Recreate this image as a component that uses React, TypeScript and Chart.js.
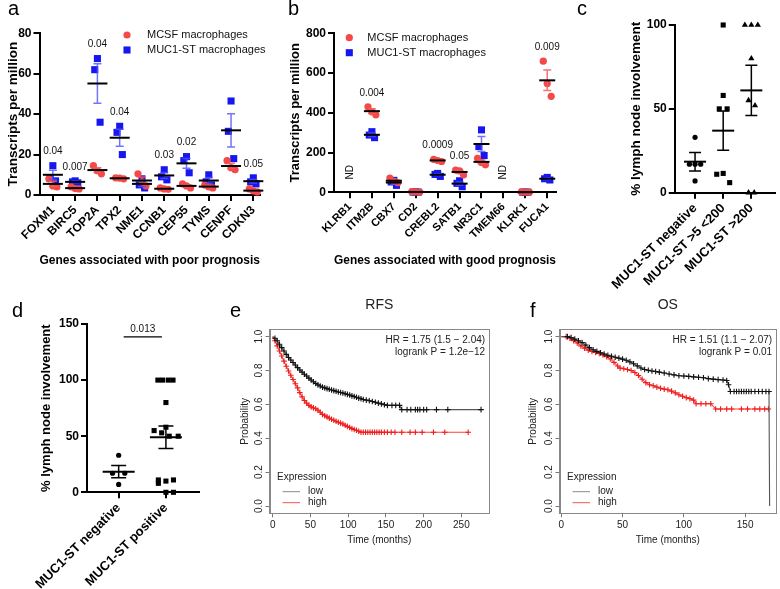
import React, { useEffect, useRef } from 'react';
import { Chart, registerables } from 'chart.js';

Chart.register(...registerables);

const FONT = "'Liberation Sans', Arial, Helvetica, sans-serif";
const RED = '#F54848';
const BLUE = '#1616F0';
const RED_BAR = 'rgba(245, 90, 90, 0.85)';
const BLUE_BAR = 'rgba(80, 80, 250, 0.8)';
const KM_TEXT = '#222222';
const KM_AXIS = '#777777';

// ---------- Panel a ----------
const CATS_A = ['FOXM1', 'BIRC5', 'TOP2A', 'TPX2', 'NME1', 'CCNB1', 'CEP55', 'TYMS', 'CENPF', 'CDKN3'];
const MCSF_A = [[8, 4.5, 4], [4, 3.2, 3], [14.5, 12, 10.5], [8.5, 8.3, 8], [10.5, 6.5, 4.5], [3.5, 3, 2.8], [5.5, 4.5, 3.5], [5, 4, 3.5], [17, 13.5, 12.5], [3, 2, 1.5]];
const MUC1_A = [[14.5, 8.5, 7], [7, 6.5, 6], [67.5, 62, 36], [34, 31, 20], [8, 5, 3.5], [12.5, 9, 7.5], [19, 17, 11], [10, 6.5, 5], [46.5, 31.5, 18], [8.5, 6.5, 5.5]];
const P_A = ['0.04', '0.007', '0.04', '0.04', '', '0.03', '0.02', '', '', '0.05'];
const Y_TICKS_A = [0, 20, 40, 60, 80];

// ---------- Panel b ----------
const CATS_B = ['KLRB1', 'ITM2B', 'CBX7', 'CD2', 'CREBL2', 'SATB1', 'NR3C1', 'TMEM66', 'KLRK1', 'FUCA1'];
const MCSF_B = [[], [430, 405, 390], [72, 55, 48], [3, 2, 1], [166, 160, 155], [112, 108, 87], [171, 150, 138], [], [2, 1, 0.5], [660, 547, 483]];
const MUC1_B = [[], [305, 288, 275], [60, 52, 35], [2, 1, 1], [95, 90, 80], [58, 45, 28], [314, 230, 185], [], [1, 0.5, 0.5], [75, 68, 62]];
const P_B = ['', '0.004', '', '', '0.0009', '0.05', '', '', '', '0.009'];
const Y_TICKS_B = [0, 200, 400, 600, 800];

// ---------- Panel c ----------
const CATS_C = ['MUC1-ST negative', 'MUC1-ST >5 <200', 'MUC1-ST >200'];
const C_NEG = [33, 17, 17, 17, 7];
const C_MID = [100, 58, 50, 50, 11, 11.5, 6];
const C_HIGH = [100, 100, 100, 80, 55, 52, 0, 0];
const C_MEAN = [18.5, 37, 61];
const C_SEM = [5.5, 11.7, 15];
const Y_TICKS_C = [0, 50, 100];

// ---------- Panel d ----------
const CATS_D = ['MUC1-ST negative', 'MUC1-ST positive'];
const D_NEG = [33, 17, 17, 7];
const D_POS = [100, 100, 100, 100, 80, 58, 55, 53, 50, 50, 11, 8, 10, 11, 0, 0];
const D_MEAN = [18.4, 49];
const D_SEM = [5.5, 10];
const D_SIG = { from: 0, to: 1, level: 138.5, text: '0.013' };
const Y_TICKS_D = [0, 50, 100, 150];

// ---------- Panels e / f (Kaplan-Meier: [months, probability]) ----------
const E_LOW = [[0, 1], [3, 0.99], [6, 0.975], [9, 0.955], [12, 0.935], [15, 0.915], [18, 0.895], [21, 0.877], [24, 0.862], [27, 0.847], [30, 0.832], [33, 0.817], [36, 0.803], [39, 0.79], [42, 0.778], [45, 0.767], [48, 0.755], [51, 0.744], [54, 0.733], [57, 0.723], [60, 0.715], [63, 0.708], [66, 0.702], [69, 0.697], [72, 0.693], [75, 0.689], [78, 0.685], [81, 0.681], [84, 0.677], [87, 0.673], [90, 0.67], [93, 0.667], [96, 0.663], [99, 0.659], [102, 0.655], [105, 0.65], [108, 0.646], [111, 0.642], [114, 0.637], [117, 0.633], [120, 0.629], [124, 0.625], [128, 0.621], [132, 0.617], [136, 0.612], [140, 0.607], [144, 0.603], [148, 0.598], [152, 0.594], [158, 0.594], [163, 0.594], [168, 0.594], [171, 0.569], [178, 0.569], [183, 0.569], [189, 0.569], [192, 0.569], [195, 0.569], [200, 0.569], [204, 0.569], [217, 0.569], [232, 0.569], [276, 0.569]];
const E_HIGH = [[0, 1], [3, 0.975], [6, 0.945], [9, 0.915], [12, 0.885], [15, 0.855], [18, 0.825], [21, 0.797], [24, 0.772], [27, 0.747], [30, 0.722], [33, 0.697], [36, 0.669], [39, 0.644], [42, 0.623], [45, 0.607], [48, 0.594], [51, 0.585], [54, 0.579], [57, 0.574], [60, 0.565], [63, 0.553], [66, 0.541], [69, 0.533], [72, 0.526], [75, 0.519], [78, 0.512], [81, 0.506], [84, 0.5], [87, 0.494], [90, 0.489], [93, 0.484], [96, 0.477], [99, 0.47], [102, 0.463], [105, 0.457], [108, 0.452], [111, 0.447], [114, 0.441], [117, 0.435], [120, 0.435], [123, 0.435], [126, 0.435], [129, 0.435], [132, 0.435], [135, 0.435], [138, 0.435], [141, 0.435], [144, 0.435], [148, 0.435], [152, 0.435], [157, 0.435], [162, 0.435], [171, 0.435], [182, 0.435], [189, 0.435], [198, 0.435], [213, 0.435], [228, 0.435], [259, 0.435]];
const F_LOW = [[0, 1], [5, 1], [8, 0.995], [11, 0.985], [14, 0.975], [17, 0.965], [20, 0.95], [23, 0.935], [26, 0.922], [29, 0.913], [32, 0.905], [35, 0.897], [38, 0.89], [41, 0.884], [44, 0.878], [47, 0.873], [50, 0.867], [53, 0.86], [56, 0.851], [59, 0.84], [62, 0.827], [65, 0.815], [68, 0.806], [71, 0.801], [74, 0.797], [77, 0.794], [80, 0.79], [84, 0.785], [88, 0.779], [92, 0.774], [96, 0.769], [100, 0.767], [104, 0.765], [108, 0.762], [112, 0.76], [116, 0.757], [120, 0.752], [124, 0.749], [128, 0.746], [132, 0.744], [135, 0.741], [136.5, 0.716], [138, 0.676], [141, 0.676], [143, 0.676], [145, 0.676], [147, 0.676], [149, 0.676], [151, 0.676], [153, 0.676], [155, 0.676], [158, 0.676], [161, 0.676], [164, 0.676], [167, 0.676], [169.5, 0.676], [170, 0]];
const F_HIGH = [[0, 1], [4, 1], [7, 0.99], [10, 0.976], [13, 0.962], [16, 0.945], [19, 0.932], [22, 0.92], [25, 0.912], [28, 0.906], [31, 0.9], [34, 0.892], [37, 0.882], [40, 0.868], [43, 0.848], [46, 0.826], [48, 0.814], [51, 0.81], [54, 0.806], [57, 0.8], [60, 0.788], [63, 0.77], [66, 0.748], [69, 0.728], [72, 0.716], [75, 0.71], [78, 0.702], [81, 0.695], [84, 0.69], [87, 0.686], [90, 0.678], [93, 0.668], [96, 0.657], [99, 0.648], [102, 0.64], [105, 0.634], [108, 0.625], [110, 0.604], [114, 0.604], [118, 0.604], [122, 0.604], [126, 0.573], [130, 0.573], [135, 0.573], [139, 0.573], [147, 0.573], [152, 0.573], [158, 0.573], [162, 0.573], [166, 0.573], [169, 0.573]];
const E_X_TICKS = [0, 50, 100, 150, 200, 250];
const F_X_TICKS = [0, 50, 100, 150];
const KM_Y_TICKS = [0, 0.2, 0.4, 0.6, 0.8, 1.0];
const E_HR = ['HR = 1.75 (1.5 \u2212 2.04)', 'logrank P = 1.2e\u221212'];
const F_HR = ['HR = 1.51 (1.1 \u2212 2.07)', 'logrank P = 0.01'];

// jitter (style) for dot plots
const JIT_RED = [-0.18, 0, 0.18];
const JIT_BLUE = [0, -0.12, 0.12];
const JIT_C = [[0, -0.2, 0, 0.2, 0], [0, 0, -0.14, 0.14, -0.23, 0, 0.23], [-0.23, 0, 0.23, 0, -0.1, 0.13, -0.1, 0.1]];
const JIT_D = [[0, -0.13, 0.13, 0], [-0.17, -0.07, 0.05, 0.15, 0, 0, -0.25, -0.09, 0.07, 0.26, -0.16, -0.16, 0, 0.16, 0, 0.16]];

const mean = (a: number[]) => a.reduce((s, v) => s + v, 0) / a.length;
const sem = (a: number[]) => {
  const m = mean(a);
  const v = a.reduce((s, x) => s + (x - m) * (x - m), 0) / (a.length - 1);
  return Math.sqrt(v / a.length);
};

function groupPts(groups: number[][], jit: number[]) {
  const out: { x: number; y: number }[] = [];
  groups.forEach((g, i) => g.forEach((v, k) => out.push({ x: i + jit[k % jit.length], y: v })));
  return out;
}
function onePts(idx: number, vals: number[], jit: number[]) {
  return vals.map((v, k) => ({ x: idx + jit[k], y: v }));
}

const bold = (size: number) => ({ family: FONT, size, weight: 'bold' as const });
const plain = (size: number) => ({ family: FONT, size, weight: 'normal' as const });

function gpY(o: any) {
  return {
    type: 'linear',
    min: o.min,
    max: o.max,
    afterBuildTicks: (s: any) => { s.ticks = o.ticks.map((v: number) => ({ value: v })); },
    afterFit: (s: any) => { s.width = o.width; },
    ticks: { color: '#000', font: bold(o.tickSize), padding: 2 },
    grid: { display: true, drawOnChartArea: false, drawTicks: true, tickLength: 6, tickWidth: 2, lineWidth: 2, color: '#000' },
    border: { display: true, color: '#000', width: 2 },
    title: { display: true, text: o.title, color: '#000', font: bold(o.titleSize), padding: { top: o.titlePad, bottom: 0 } },
  };
}

function gpX(o: any) {
  return {
    type: 'linear',
    min: o.min,
    max: o.max,
    afterBuildTicks: (s: any) => { s.ticks = o.cats.map((_: string, i: number) => ({ value: i })); },
    afterFit: (s: any) => { s.height = o.height; },
    ticks: { autoSkip: false, minRotation: 45, maxRotation: 45, color: '#000', font: bold(o.tickSize), padding: 2, callback: (_v: any, i: number) => o.cats[i] },
    grid: { display: true, drawOnChartArea: false, drawTicks: true, tickLength: 6, tickWidth: 2, lineWidth: 2, color: '#000' },
    border: { display: true, color: '#000', width: 2 },
    title: o.title
      ? { display: true, text: o.title, color: '#000', font: bold(o.titleSize), padding: { top: 0, bottom: 0 } }
      : { display: false },
  };
}

function dotSet(label: string, data: any[], style: string, color: string, radius: number) {
  return {
    label,
    data,
    showLine: false,
    pointStyle: style,
    pointRadius: radius,
    pointHoverRadius: radius,
    pointBackgroundColor: color,
    pointBorderColor: color,
    pointBorderWidth: 0,
    backgroundColor: color,
    borderColor: color,
    clip: false,
  };
}

function drawMarker(ctx: CanvasRenderingContext2D, style: string, x: number, y: number, r: number, color: string) {
  ctx.fillStyle = color;
  if (style === 'circle') {
    ctx.beginPath();
    ctx.arc(x, y, r, 0, Math.PI * 2);
    ctx.fill();
  } else {
    const h = r * Math.SQRT1_2;
    ctx.fillRect(x - h, y - h, 2 * h, 2 * h);
  }
}

function errBar(ctx: CanvasRenderingContext2D, cx: number, yt: number, yb: number, cap: number, color: string, w: number) {
  ctx.strokeStyle = color;
  ctx.lineWidth = w;
  ctx.beginPath();
  ctx.moveTo(cx, yt); ctx.lineTo(cx, yb);
  ctx.moveTo(cx - cap, yt); ctx.lineTo(cx + cap, yt);
  ctx.moveTo(cx - cap, yb); ctx.lineTo(cx + cap, yb);
  ctx.stroke();
}

function meanLine(ctx: CanvasRenderingContext2D, cx: number, ym: number, half: number) {
  ctx.strokeStyle = '#000';
  ctx.lineWidth = 2;
  ctx.beginPath();
  ctx.moveTo(cx - half, ym); ctx.lineTo(cx + half, ym);
  ctx.stroke();
}

function pairPlugin(o: any) {
  return {
    id: 'pairExtras',
    afterDatasetsDraw(chart: any) {
      const { ctx, scales: { x, y }, chartArea } = chart;
      ctx.save();
      o.red.forEach((rv: number[], i: number) => {
        const bv: number[] = o.blue[i];
        const cx = x.getPixelForValue(i);
        const groups: [number[], string][] = [[bv, BLUE_BAR], [rv, RED_BAR]];
        let top = Infinity;
        for (const [vals, col] of groups) {
          if (!vals.length) continue;
          const m = mean(vals), s = sem(vals);
          const yt = y.getPixelForValue(m + s);
          errBar(ctx, cx, yt, y.getPixelForValue(m - s), o.cap, col, 1.5);
          top = Math.min(top, yt, y.getPixelForValue(Math.max(...vals)));
        }
        for (const [vals] of groups) {
          if (!vals.length) continue;
          meanLine(ctx, cx, y.getPixelForValue(mean(vals)), o.half);
        }
        ctx.fillStyle = '#111';
        ctx.font = `10px ${FONT}`;
        ctx.textAlign = 'center';
        ctx.textBaseline = 'middle';
        if (o.p[i]) ctx.fillText(o.p[i], cx, top - 14);
        if (!rv.length && !bv.length) {
          ctx.save();
          ctx.translate(cx, y.getPixelForValue(0) - 20);
          ctx.rotate(-Math.PI / 2);
          ctx.fillText('ND', 0, 0);
          ctx.restore();
        }
      });
      // legend
      const lx = chartArea.left + o.legendDx, ly = chartArea.top + o.legendDy;
      drawMarker(ctx, 'circle', lx, ly, 3.6, RED);
      drawMarker(ctx, 'rect', lx, ly + 15, 5, BLUE);
      ctx.fillStyle = '#111';
      ctx.font = `11px ${FONT}`;
      ctx.textAlign = 'left';
      ctx.textBaseline = 'middle';
      ctx.fillText('MCSF macrophages', lx + o.textDx, ly);
      ctx.fillText('MUC1-ST macrophages', lx + o.textDx, ly + 15);
      ctx.restore();
    },
  };
}

function groupPlugin(o: any) {
  return {
    id: 'groupExtras',
    afterDatasetsDraw(chart: any) {
      const { ctx, scales: { x, y } } = chart;
      ctx.save();
      o.means.forEach((m: number, i: number) => {
        const cx = x.getPixelForValue(i);
        errBar(ctx, cx, y.getPixelForValue(m + o.sems[i]), y.getPixelForValue(m - o.sems[i]), o.cap, '#000', 1.5);
        meanLine(ctx, cx, y.getPixelForValue(m), o.half);
      });
      if (o.sig) {
        const yy = y.getPixelForValue(o.sig.level);
        const x1 = x.getPixelForValue(o.sig.from) + 5, x2 = x.getPixelForValue(o.sig.to) - 4;
        ctx.strokeStyle = '#000';
        ctx.lineWidth = 1.2;
        ctx.beginPath(); ctx.moveTo(x1, yy); ctx.lineTo(x2, yy); ctx.stroke();
        ctx.fillStyle = '#111';
        ctx.font = `10px ${FONT}`;
        ctx.textAlign = 'center';
        ctx.textBaseline = 'middle';
        ctx.fillText(o.sig.text, (x1 + x2) / 2, yy - 8);
      }
      ctx.restore();
    },
  };
}

const baseOpts = (padding: any) => ({
  responsive: false,
  animation: false,
  events: [],
  layout: { padding },
  plugins: { legend: { display: false }, tooltip: { enabled: false } },
});

function makeA() {
  return {
    type: 'scatter',
    data: {
      datasets: [
        dotSet('MCSF macrophages', groupPts(MCSF_A, JIT_RED), 'circle', RED, 3.6),
        dotSet('MUC1-ST macrophages', groupPts(MUC1_A, JIT_BLUE), 'rect', BLUE, 5),
      ],
    },
    options: {
      ...baseOpts({ top: 33.3, right: 10, left: 0, bottom: 0 }),
      scales: {
        x: gpX({ min: -0.6, max: 9.3, cats: CATS_A, title: 'Genes associated with poor prognosis', titleSize: 13, height: 73, tickSize: 12 }),
        y: gpY({ min: 0, max: 80, ticks: Y_TICKS_A, title: 'Transcripts per million', titleSize: 13.5, titlePad: 5, width: 39.5, tickSize: 12 }),
      },
    },
    plugins: [pairPlugin({ red: MCSF_A, blue: MUC1_A, p: P_A, cap: 4, half: 10, legendDx: 87.5, legendDy: 1.7, textDx: 20 })],
  };
}

function makeB() {
  return {
    type: 'scatter',
    data: {
      datasets: [
        dotSet('MCSF macrophages', groupPts(MCSF_B, JIT_RED), 'circle', RED, 3.6),
        dotSet('MUC1-ST macrophages', groupPts(MUC1_B, JIT_BLUE), 'rect', BLUE, 5),
      ],
    },
    options: {
      ...baseOpts({ top: 33.3, right: 10, left: 0, bottom: 0 }),
      scales: {
        x: gpX({ min: -0.73, max: 9.4, cats: CATS_B, title: 'Genes associated with good prognosis', titleSize: 13, height: 75.7, tickSize: 11 }),
        y: gpY({ min: 0, max: 800, ticks: Y_TICKS_B, title: 'Transcripts per million', titleSize: 13, titlePad: 7.2, width: 54, tickSize: 12 }),
      },
    },
    plugins: [pairPlugin({ red: MCSF_B, blue: MUC1_B, p: P_B, cap: 4, half: 8, legendDx: 15.3, legendDy: 4.4, textDx: 18 })],
  };
}

function makeC() {
  return {
    type: 'scatter',
    data: {
      datasets: [
        dotSet(CATS_C[0], onePts(0, C_NEG, JIT_C[0]), 'circle', '#000', 2.6),
        dotSet(CATS_C[1], onePts(1, C_MID, JIT_C[1]), 'rect', '#000', 3.6),
        dotSet(CATS_C[2], onePts(2, C_HIGH, JIT_C[2]), 'triangle', '#000', 3.6),
      ],
    },
    options: {
      ...baseOpts({ top: 25, right: 5, left: 0, bottom: 0 }),
      scales: {
        x: gpX({ min: -0.72, max: 2.84, cats: CATS_C, height: 107.3, tickSize: 13 }),
        y: gpY({ min: 0, max: 100, ticks: Y_TICKS_C, title: '% lymph node involvement', titleSize: 13.5, titlePad: 14.6, width: 61, tickSize: 12 }),
      },
    },
    plugins: [groupPlugin({ means: C_MEAN, sems: C_SEM, cap: 6, half: 11 })],
  };
}

function makeD() {
  return {
    type: 'scatter',
    data: {
      datasets: [
        dotSet(CATS_D[0], onePts(0, D_NEG, JIT_D[0]), 'circle', '#000', 2.6),
        dotSet(CATS_D[1], onePts(1, D_POS, JIT_D[1]), 'rect', '#000', 3.6),
      ],
    },
    options: {
      ...baseOpts({ top: 24, right: 6, left: 0, bottom: 0 }),
      scales: {
        x: gpX({ min: -0.67, max: 1.7, cats: CATS_D, height: 96.7, tickSize: 13 }),
        y: gpY({ min: 0, max: 150, ticks: Y_TICKS_D, title: '% lymph node involvement', titleSize: 13, titlePad: 38.9, width: 87, tickSize: 12 }),
      },
    },
    plugins: [groupPlugin({ means: D_MEAN, sems: D_SEM, cap: 7.5, half: 16, sig: D_SIG })],
  };
}

function kmSet(label: string, pts: number[][], line: string, mark: string) {
  return {
    label,
    data: pts.map(([x, y]) => ({ x, y })),
    borderColor: line,
    borderWidth: 1.1,
    tension: 0,
    fill: false,
    pointStyle: 'cross',
    pointRadius: (c: any) => (c.dataIndex === 0 || (c.raw && c.raw.y === 0) ? 0 : 2.8),
    pointHoverRadius: 0,
    pointBorderColor: mark,
    pointBackgroundColor: mark,
    pointBorderWidth: 1.1,
    clip: false,
  };
}

function kmPlugin(title: string, hr: string[]) {
  return {
    id: 'kmExtras',
    afterDraw(chart: any) {
      const { ctx, chartArea: a } = chart;
      ctx.save();
      ctx.strokeStyle = '#888';
      ctx.lineWidth = 1;
      ctx.strokeRect(Math.round(a.left) + 0.5, Math.round(a.top) + 0.5, Math.round(a.right - a.left) - 1, Math.round(a.bottom - a.top));
      ctx.fillStyle = KM_TEXT;
      ctx.textBaseline = 'middle';
      ctx.font = `14px ${FONT}`;
      ctx.textAlign = 'center';
      ctx.fillText(title, (a.left + a.right) / 2, a.top - 24.3);
      ctx.font = `10px ${FONT}`;
      ctx.textAlign = 'right';
      ctx.fillText(hr[0], a.right - 4, a.top + 11);
      ctx.fillText(hr[1], a.right - 4, a.top + 22.5);
      ctx.textAlign = 'left';
      ctx.fillText('Expression', a.left + 7.5, a.bottom - 35.6);
      ctx.fillText('low', a.left + 38.5, a.bottom - 21.6);
      ctx.fillText('high', a.left + 38.5, a.bottom - 10.6);
      ctx.lineWidth = 1;
      ctx.strokeStyle = '#8a8a8a';
      ctx.beginPath(); ctx.moveTo(a.left + 13, a.bottom - 21.6); ctx.lineTo(a.left + 30.5, a.bottom - 21.6); ctx.stroke();
      ctx.strokeStyle = '#ff5050';
      ctx.beginPath(); ctx.moveTo(a.left + 13, a.bottom - 10.6); ctx.lineTo(a.left + 30.5, a.bottom - 10.6); ctx.stroke();
      ctx.restore();
    },
  };
}

function makeKM(o: any) {
  return {
    type: 'line',
    data: {
      datasets: [
        kmSet('low', o.low, '#555555', '#111111'),
        kmSet('high', o.high, '#ff4040', '#ee1c1c'),
      ],
    },
    options: {
      ...baseOpts({ top: 34.3, right: o.padRight, left: 0, bottom: 0 }),
      scales: {
        x: {
          type: 'linear',
          min: o.xMin,
          max: o.xMax,
          afterBuildTicks: (s: any) => { s.ticks = o.xTicks.map((v: number) => ({ value: v })); },
          afterFit: (s: any) => { s.height = 36.7; },
          ticks: { autoSkip: false, minRotation: 0, maxRotation: 0, color: KM_TEXT, font: plain(10), padding: 1.5 },
          grid: { display: true, drawOnChartArea: false, drawTicks: true, tickLength: 4, color: KM_AXIS, lineWidth: 1 },
          border: { display: true, color: '#888', width: 1 },
          title: { display: true, text: 'Time (months)', color: KM_TEXT, font: plain(10), padding: { top: 0, bottom: 4 } },
        },
        y: {
          type: 'linear',
          min: -0.043,
          max: 1.043,
          afterBuildTicks: (s: any) => { s.ticks = KM_Y_TICKS.map((v) => ({ value: v })); },
          afterFit: (s: any) => { s.width = 39.5; },
          ticks: { minRotation: 90, maxRotation: 90, crossAlign: 'center', color: KM_TEXT, font: plain(10), padding: o.yTickPad, callback: (v: any) => Number(v).toFixed(1) },
          grid: { display: true, drawOnChartArea: false, drawTicks: true, tickLength: 4, color: KM_AXIS, lineWidth: 1 },
          border: { display: true, color: '#888', width: 1 },
          title: { display: true, text: 'Probability', color: KM_TEXT, font: plain(10), padding: { top: o.yTitlePad, bottom: 0 } },
        },
      },
    },
    plugins: [kmPlugin(o.title, o.hr)],
  };
}

const makeE = () => makeKM({ low: E_LOW, high: E_HIGH, xMin: -4.2, xMax: 286.7, xTicks: E_X_TICKS, title: 'RFS', hr: E_HR, yTitlePad: 9, yTickPad: -1, padRight: 1.5 });
const makeF = () => makeKM({ low: F_LOW, high: F_HIGH, xMin: -1.46, xMax: 175.3, xTicks: F_X_TICKS, title: 'OS', hr: F_HR, yTitlePad: 7, yTickPad: -0.5, padRight: 2 });

function ChartCanvas(props: { left: number; top: number; width: number; height: number; make: () => any }) {
  const ref = useRef<HTMLCanvasElement>(null);
  useEffect(() => {
    const chart = new Chart(ref.current as HTMLCanvasElement, props.make());
    return () => chart.destroy();
  }, []);
  return (
    <canvas
      ref={ref}
      width={props.width}
      height={props.height}
      style={{ position: 'absolute', left: props.left, top: props.top, width: props.width, height: props.height }}
    />
  );
}

function Letter(props: { ch: string; left: number; top: number }) {
  return (
    <div style={{ position: 'absolute', left: props.left, top: props.top, fontFamily: FONT, fontSize: 20, lineHeight: '20px', color: '#000' }}>
      {props.ch}
    </div>
  );
}

export default function App() {
  return (
    <div style={{ position: 'absolute', left: 0, top: 0, width: 780, height: 589, overflow: 'hidden', background: '#fff' }}>
      <ChartCanvas left={0} top={0} width={270} height={268} make={makeA} />
      <ChartCanvas left={280} top={0} width={286} height={268} make={makeB} />
      <ChartCanvas left={600} top={0} width={180} height={300} make={makeC} />
      <ChartCanvas left={0} top={300} width={205} height={289} make={makeD} />
      <ChartCanvas left={230} top={295} width={263} height={255} make={makeE} />
      <ChartCanvas left={520} top={295} width={260} height={255} make={makeF} />
      <Letter ch="a" left={8} top={-2} />
      <Letter ch="b" left={288} top={-2} />
      <Letter ch="c" left={577} top={-2} />
      <Letter ch="d" left={12} top={300} />
      <Letter ch="e" left={230} top={300} />
      <Letter ch="f" left={530} top={300} />
    </div>
  );
}
